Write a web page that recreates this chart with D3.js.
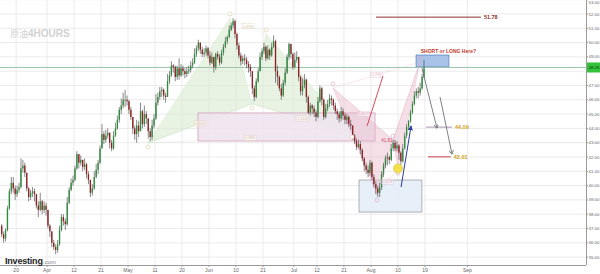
<!DOCTYPE html>
<html><head><meta charset="utf-8">
<script src="https://cdn.jsdelivr.net/npm/d3@7"></script>
<style>
body{margin:0;background:#fff}
svg{display:block;font-family:"Liberation Sans",Arial,sans-serif}
.cjk{font-family:"Noto Sans CJK SC","Noto Sans CJK JP","Noto Sans CJK TC",sans-serif}
</style></head>
<body><svg id="c" width="600" height="274"></svg>
<script>
// ---- data: half-day candles, trading day 1 (Mar 15) .. 110 (Aug 18) ----
const firstDay = 1;
const firstOpen = 37.2;
const closes = [
36.6,36.3,36.9,38.4,39.6,40.2,39.8,39.4,39.7,39.9,
41.2,41.4,40.9,39.8,39.2,39.5,39.6,39.4,38.6,38.3,
38.9,38.3,38.6,38.3,37.2,36.8,36.0,35.7,35.5,35.9,
36.9,37.8,37.5,37.3,38.8,39.7,40.2,40.4,41.2,42.2,
41.6,41.8,41.3,41.5,40.8,40.4,39.5,39.8,40.6,41.1,
41.6,42.6,43.6,43.2,43.5,43.7,43.0,42.6,43.5,44.0,
44.6,45.3,45.6,46.0,46.0,45.9,45.3,44.8,44.0,43.6,
44.2,43.8,45.2,44.3,45.0,44.7,43.8,43.4,44.2,44.7,
45.8,46.2,46.6,46.7,46.3,46.2,47.3,47.7,48.4,48.3,
47.6,48.2,47.7,48.2,48.0,47.8,48.0,48.1,48.4,48.6,
49.2,49.6,50.0,49.5,49.2,49.3,49.6,49.1,48.6,49.0,
48.3,49.2,49.0,48.6,49.3,49.7,50.1,50.4,50.9,51.2,
51.5,50.6,49.8,49.1,48.7,48.9,48.8,48.5,48.3,48.0,
46.8,46.2,47.3,48.0,49.0,49.4,49.7,48.9,49.5,49.1,
49.7,50.1,48.0,47.6,46.8,46.3,47.2,47.9,49.0,49.9,
49.2,48.3,48.8,49.0,47.6,46.6,47.0,47.4,46.2,45.1,
45.6,45.4,45.1,44.8,45.9,46.8,46.0,44.8,45.4,45.7,
46.1,46.0,45.6,45.2,45.0,44.7,45.2,44.9,44.6,44.8,
44.3,44.2,43.5,43.1,42.7,42.9,42.5,41.9,41.4,41.1,
40.9,41.6,40.6,40.1,39.8,39.5,39.9,40.8,41.4,41.9,
42.0,41.8,42.6,43.0,42.6,42.8,42.3,41.7,42.6,43.5,
44.1,44.5,45.1,45.7,46.3,46.6,46.5,46.8,47.6,48.2];
const highs = [
37.3,36.8,37.0,38.6,39.8,40.6,40.6,40.0,40.0,40.2,
41.9,41.8,41.6,40.9,39.9,39.7,39.9,39.8,39.4,38.9,
39.5,39.0,38.9,38.8,38.3,37.3,36.8,36.2,35.9,36.2,
37.2,38.0,38.0,37.7,39.2,39.9,40.5,40.7,41.4,42.4,
42.2,42.1,41.8,41.9,41.6,41.0,40.0,40.1,41.0,41.5,
41.8,42.8,44.3,43.8,43.9,44.0,43.7,43.2,43.8,44.4,
44.9,45.5,46.1,46.5,46.7,46.3,46.0,45.5,44.8,44.2,
44.6,44.5,45.8,45.3,45.6,45.2,44.6,44.0,44.6,45.0,
46.4,46.5,46.9,46.9,46.8,46.5,47.8,48.0,48.7,48.5,
48.4,48.4,48.9,48.5,48.4,48.2,48.3,48.4,48.7,48.9,
49.6,49.8,50.2,50.0,49.7,49.6,49.8,49.7,49.4,49.3,
49.0,49.3,49.4,49.2,49.5,49.9,50.4,50.5,51.2,51.4,
51.7,51.6,50.7,50.0,49.3,49.1,49.2,49.0,48.7,48.5,
48.0,47.0,47.5,48.2,49.3,49.6,50.0,49.8,49.8,49.6,
50.0,50.5,50.2,48.4,47.7,47.1,47.4,48.2,49.2,50.0,
49.9,49.3,49.3,49.4,49.0,47.7,47.5,47.8,47.5,46.3,
45.8,45.7,45.6,45.3,46.2,47.0,46.9,46.1,45.7,46.0,
46.4,46.3,46.1,45.8,45.4,45.2,45.5,45.4,45.1,45.0,
44.9,44.6,44.1,43.6,43.3,43.2,43.1,42.6,42.0,41.6,
41.4,41.8,41.7,40.8,40.3,40.0,40.2,41.0,41.6,42.1,
42.3,42.1,42.9,43.2,43.2,43.1,42.9,42.4,42.9,43.7,
44.3,44.6,45.3,45.9,46.6,46.8,46.9,47.2,47.8,48.8];
const lows = [
36.4,36.0,36.1,36.8,38.3,39.4,39.5,39.0,39.2,39.5,
39.8,40.9,40.6,39.6,38.9,39.0,39.2,38.9,38.4,37.8,
38.2,38.0,38.1,37.9,37.0,36.4,35.7,35.5,35.2,35.3,
35.8,36.8,37.2,36.9,37.2,38.7,39.6,40.0,40.3,41.1,
41.2,41.4,41.0,41.1,40.5,40.1,39.2,39.3,39.7,40.5,
40.8,41.5,42.6,42.9,43.0,43.3,42.6,42.4,42.5,43.4,
43.9,44.4,45.0,45.4,45.5,45.6,45.0,44.6,43.6,43.2,
43.0,43.4,43.8,44.0,44.1,44.3,43.3,43.1,43.2,44.0,
44.6,45.6,46.0,46.2,46.0,45.8,46.2,47.1,47.6,47.9,
47.3,47.4,47.4,47.6,47.7,47.5,47.6,47.8,47.9,48.2,
48.5,49.0,49.4,49.2,49.0,49.0,49.1,48.9,48.4,48.5,
47.9,48.1,48.8,48.4,48.5,49.1,49.6,49.9,50.3,50.8,
51.0,50.3,49.5,48.9,48.4,48.5,48.4,48.2,47.9,47.6,
46.4,45.9,46.1,47.2,48.0,48.8,49.2,48.7,48.8,48.8,
49.0,49.6,47.2,47.0,46.6,46.0,46.2,47.0,47.8,48.8,
48.9,48.1,48.2,48.6,47.3,46.3,46.3,46.8,45.8,45.0,
44.9,45.0,44.8,44.5,44.7,45.8,45.6,44.6,44.7,45.2,
45.5,45.6,45.3,45.0,44.6,44.4,44.5,44.6,44.3,44.3,
44.1,43.9,43.2,42.9,42.5,42.6,42.2,41.7,41.0,40.8,
40.6,40.7,40.4,39.9,39.4,39.2,39.2,39.7,40.6,41.2,
41.4,41.5,41.7,42.4,42.4,42.4,41.8,41.4,41.6,42.5,
43.3,43.9,44.4,45.0,45.6,46.1,46.1,46.3,46.7,47.5];
const lastPrice = 48.26;
const priceTicks = [35,36,37,38,39,40,41,42,43,44,45,46,47,48,49,50,51,52,53];
const timeLabels = ["20","Apr","12","21","May","11","20","Jun","10","21","Jul","12","21","Aug","10","19","Sep"];
const timeDays   = [5,13,20,27,34,41,48,55,62,69,77,83,90,97,104,111,122];
// harmonic patterns (X,A,B,C,D) in trading-day / price units
const greenDays   = [39.2,60.45,66.15,69.8,92.1];
const greenPrices = [42.98,51.72,45.71,50.6,43.68];
const pinkDays    = [87.15,98.56,102.71,104.0,109.7];
const pinkPrices  = [46.83,39.34,43.19,41.23,48.64];
// zones
const zoneDays   = [[52.15,98.05],[93.9,110.2],[108.7,117.2]];
const zonePrices = [[45.08,43.12],[40.39,38.15],[49.13,48.3]];
// target levels
const levelValues = [51.78,44.09,42.01];
const levelFrom   = [98.3,111.3,111.8];
const levelTo     = [125.5,118.0,117.7];
// arrows [fromDay,fromPrice,toDay,toPrice]
const arrowsGray = [[110.2,48.22,114.1,44.03],[114.9,46.2,118.0,42.21]];
const arrowBlue  = [104.8,39.9,107.4,44.17];
const redLine    = [96.0,44.17,100.1,47.66];
const dotPoint   = [104.0,41.2];

// ---- layout ----
const W = 600, H = 274, plotR = 586, plotB = 265;
const svg = d3.select("#c");
const x = d3.scaleLinear().domain([0.815, 152.75]).range([0, plotR]);
const y = d3.scaleLinear().domain([52.979 - plotB/14.3, 52.979]).range([plotB, 0]);

// grid
const g = svg.append("g");
g.selectAll(".hg").data(priceTicks).enter().append("line")
  .attr("x1",0).attr("x2",plotR).attr("y1",d=>y(d)).attr("y2",d=>y(d))
  .attr("stroke","#ebebeb").attr("stroke-width",1);
g.selectAll(".vg").data(timeDays).enter().append("line")
  .attr("x1",d=>x(d)).attr("x2",d=>x(d)).attr("y1",0).attr("y2",plotB)
  .attr("stroke","#ebebeb").attr("stroke-width",1);

// watermark
const wm = svg.append("text").attr("x",10).attr("y",37).attr("fill","#d2d2d2");
wm.append("tspan").attr("class","cjk").attr("font-size",9).text("原油");
wm.append("tspan").attr("font-weight","bold").attr("font-size",10).text("4HOURS");

// patterns
const P = (ds,ps,i)=>[x(ds[i]),y(ps[i])];
function pattern(ds,ps,fill,fo,line){
  const pg = svg.append("g");
  [[0,1,2],[2,3,4]].forEach(t=>{
    pg.append("polygon").attr("points",t.map(i=>P(ds,ps,i).join(",")).join(" "))
      .attr("fill",fill).attr("fill-opacity",fo).attr("stroke",line).attr("stroke-opacity",0.5).attr("stroke-width",0.6);
  });
  [[0,2],[1,3],[2,4],[0,4]].forEach(([a,b])=>{
    pg.append("line").attr("x1",P(ds,ps,a)[0]).attr("y1",P(ds,ps,a)[1])
      .attr("x2",P(ds,ps,b)[0]).attr("y2",P(ds,ps,b)[1])
      .attr("stroke",line).attr("stroke-opacity",0.4).attr("stroke-width",0.6);
  });
  return pg;
}
pattern(greenDays,greenPrices,"#d8ebd2",0.6,"#c2dcb9");

// zones
const zoneStyle = [{f:"#efe3ee",s:"#d3a0b6",o:0.85},{f:"#e4edf8",s:"#a0a0a8",o:0.9},{f:"#a9c3e8",s:"#5a86c4",o:1}];
zoneDays.forEach((zd,i)=>{
  svg.append("rect").attr("x",x(zd[0])).attr("y",y(zonePrices[i][0]))
    .attr("width",x(zd[1])-x(zd[0])).attr("height",y(zonePrices[i][1])-y(zonePrices[i][0]))
    .attr("fill",zoneStyle[i].f).attr("fill-opacity",zoneStyle[i].o)
    .attr("stroke",zoneStyle[i].s).attr("stroke-width",0.8);
});

pattern(pinkDays,pinkPrices,"#e6b4c8",0.42,"#e0a4bc");

// current price line
svg.append("line").attr("x1",0).attr("x2",plotR).attr("y1",y(lastPrice)).attr("y2",y(lastPrice))
  .attr("stroke","#9fc3aa").attr("stroke-width",1);

// candles
const cg = svg.append("g");
const cw = x(1.5)-x(1);
closes.forEach((c,i)=>{
  const o = i===0 ? firstOpen : closes[i-1];
  const d = firstDay + Math.floor(i/2) + (i%2 ? 0.75 : 0.25);
  const cx = x(d);
  const up = c >= o;
  const hi = Math.max(highs[i],o,c), lo = Math.min(lows[i],o,c);
  cg.append("line").attr("x1",cx).attr("x2",cx).attr("y1",y(hi)).attr("y2",y(lo))
    .attr("stroke","#3b3b3b").attr("stroke-width",0.6);
  cg.append("rect").attr("x",cx-cw*0.35).attr("width",cw*0.7)
    .attr("y",y(Math.max(o,c))).attr("height",Math.max(0.6,Math.abs(y(o)-y(c))))
    .attr("fill",up?"#2f8a3e":"#8e2222");
});

// pattern labels (ratio tags at diagonal midpoints)
function tag(px,py,txt,col){
  svg.append("rect").attr("x",px-6).attr("y",py-2.6).attr("width",12).attr("height",5.2)
    .attr("fill","#fff").attr("fill-opacity",0.5).attr("stroke",col).attr("stroke-opacity",0.5).attr("stroke-width",0.5);
  svg.append("text").attr("x",px).attr("y",py+1.5).attr("text-anchor","middle")
    .attr("font-size",4).attr("fill",col).attr("fill-opacity",0.8).text(txt);
}
const mid = (ds,ps,a,b)=>[(x(ds[a])+x(ds[b]))/2,(y(ps[a])+y(ps[b]))/2];
tag(...mid(greenDays,greenPrices,0,2),"0.868","#d8b98c");
tag(...mid(greenDays,greenPrices,1,3),"0.899","#d8b98c");
tag(...mid(greenDays,greenPrices,2,4),"1.618","#d8b98c");
tag(...mid(greenDays,greenPrices,0,4),"0.886","#d8b98c");
tag(...mid(pinkDays,pinkPrices,0,2),"0.412","#e09ab4");
tag(...mid(pinkDays,pinkPrices,1,3),"0.618","#e09ab4");
tag(...mid(pinkDays,pinkPrices,0,4),"0.796","#e09ab4");
greenDays.forEach((d,i)=>{
  const up = i%2===1;
  svg.append("circle").attr("cx",x(d)).attr("cy",y(greenPrices[i])+(up?-4:4)).attr("r",2)
    .attr("fill","#fff").attr("stroke","#d8c8a8").attr("stroke-width",0.6);
});
pinkDays.forEach((d,i)=>{
  svg.append("circle").attr("cx",x(d)).attr("cy",y(pinkPrices[i])+(i%2===1?5:-4)).attr("r",2)
    .attr("fill","none").attr("stroke","#d9a8bd").attr("stroke-width",0.6);
});
svg.append("text").attr("x",x(102.6)).attr("y",y(43.19)+2).attr("text-anchor","end")
  .attr("font-size",4.5).attr("fill","#d2455e").text("41.81");

// red line
svg.append("line").attr("x1",x(redLine[0])).attr("y1",y(redLine[1])).attr("x2",x(redLine[2])).attr("y2",y(redLine[3]))
  .attr("stroke","#d03a4a").attr("stroke-width",0.9);

// levels
const levelCol = ["#8b3030","#a896b0","#c8404f"];
const labelCol = ["#8b3030","#d4a020","#d4a020"];
levelValues.forEach((v,i)=>{
  svg.append("line").attr("x1",x(levelFrom[i])).attr("x2",x(levelTo[i])).attr("y1",y(v)).attr("y2",y(v))
    .attr("stroke",levelCol[i]).attr("stroke-width",1);
  svg.append("text").attr("x",x(levelTo[i])+3).attr("y",y(v)+2).attr("font-size",5.5)
    .attr("font-weight","bold").attr("fill",labelCol[i]).text(v.toFixed(2));
});

// arrow markers
const defs = svg.append("defs");
defs.append("marker").attr("id","ag").attr("viewBox","0 0 8 8").attr("refX",7).attr("refY",4)
  .attr("markerWidth",5).attr("markerHeight",5).attr("orient","auto")
  .append("path").attr("d","M0,0L8,4L0,8").attr("fill","none").attr("stroke","#70707a").attr("stroke-width",1.4);
defs.append("marker").attr("id","ab").attr("viewBox","0 0 8 8").attr("refX",7).attr("refY",4)
  .attr("markerWidth",5).attr("markerHeight",5).attr("orient","auto")
  .append("path").attr("d","M0,0L8,4L0,8Z").attr("fill","#2b3a9c");
arrowsGray.forEach(a=>{
  svg.append("line").attr("x1",x(a[0])).attr("y1",y(a[1])).attr("x2",x(a[2])).attr("y2",y(a[3]))
    .attr("stroke","#70707a").attr("stroke-width",0.9).attr("marker-end","url(#ag)");
});
svg.append("line").attr("x1",x(arrowBlue[0])).attr("y1",y(arrowBlue[1])).attr("x2",x(arrowBlue[2])).attr("y2",y(arrowBlue[3]))
  .attr("stroke","#2b3a9c").attr("stroke-width",1).attr("marker-end","url(#ab)");

// yellow dot
svg.append("circle").attr("cx",x(dotPoint[0])).attr("cy",y(dotPoint[1])).attr("r",4.5)
  .attr("fill","#f3e04e").attr("stroke","#d8c23a").attr("stroke-width",0.6);

// short/long text
svg.append("text").attr("x",x(109.9)).attr("y",y(49.13)-2).attr("font-size",5).attr("font-weight","bold")
  .attr("fill","#c0392b").text("SHORT or LONG Here?");

// axes frame
svg.append("line").attr("x1",plotR+0.5).attr("x2",plotR+0.5).attr("y1",0).attr("y2",plotB).attr("stroke","#9a9a9a");
svg.append("line").attr("x1",0).attr("x2",plotR).attr("y1",plotB+0.5).attr("y2",plotB+0.5).attr("stroke","#9a9a9a");

// right axis (the tick label hidden under the last-price tag is skipped)
const ra = svg.append("g");
priceTicks.forEach(v=>{
  ra.append("line").attr("x1",plotR).attr("x2",plotR+2).attr("y1",y(v)).attr("y2",y(v)).attr("stroke","#9a9a9a");
  if (Math.abs(y(v)-y(lastPrice)) > 8)
    ra.append("text").attr("x",plotR+2.5).attr("y",Math.max(4.2,y(v)+1.6)).attr("font-size",4.4).attr("fill","#666").text(v.toFixed(2));
});
ra.append("rect").attr("x",plotR+1).attr("y",y(lastPrice)-5).attr("width",W-plotR-1).attr("height",10).attr("fill","#33c23a");
ra.append("text").attr("x",plotR+2.5).attr("y",y(lastPrice)+1.6).attr("font-size",4.4).attr("fill","#0d3d10").text(lastPrice.toFixed(2));

// bottom axis
timeDays.forEach((d,i)=>{
  svg.append("line").attr("x1",x(d)).attr("x2",x(d)).attr("y1",plotB).attr("y2",plotB+2).attr("stroke","#9a9a9a");
  svg.append("text").attr("x",x(d)).attr("y",271.5).attr("text-anchor","middle").attr("font-size",5).attr("fill","#666").text(timeLabels[i]);
});

// logo
const lg = svg.append("text").attr("x",5).attr("y",264);
lg.append("tspan").attr("font-size",9).attr("font-weight","bold").attr("fill","#222").attr("letter-spacing",-0.2).text("Investing");
lg.append("tspan").attr("font-size",6).attr("fill","#888").text(".com");
</script>
</body></html>
